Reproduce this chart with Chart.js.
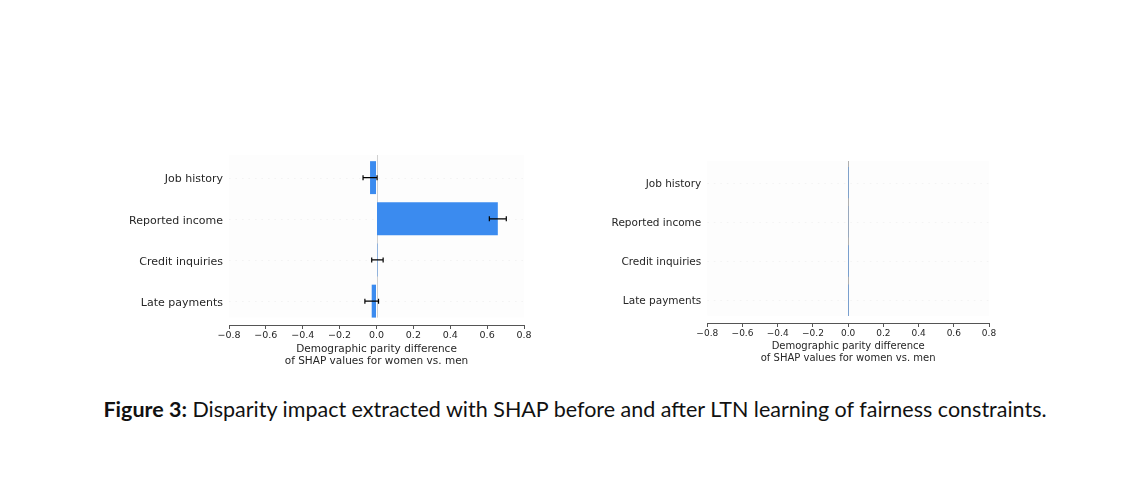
<!DOCTYPE html>
<html>
<head>
<meta charset="utf-8">
<script src="https://cdn.jsdelivr.net/npm/chart.js@4.4.1/dist/chart.umd.min.js"></script>
<style>
  html, body { margin: 0; padding: 0; background: #ffffff; width: 1144px; height: 484px; overflow: hidden; }
  .wrap { position: absolute; }
  #caption { position: absolute; left: 3px; width: 1144px; top: 396px; text-align: center;
    font-family: Lato, "Open Sans", sans-serif; font-size: 21.5px; color: #111; white-space: nowrap; }
  #caption b { font-weight: 700; }
</style>
</head>
<body>
<div class="wrap" style="left:100px;top:140px;width:450px;height:240px;"><canvas id="c1"></canvas></div>
<div class="wrap" style="left:580px;top:140px;width:440px;height:240px;"><canvas id="c2"></canvas></div>
<div id="caption"><b>Figure 3:</b> Disparity impact extracted with SHAP before and after LTN learning of fairness constraints.</div>
<script>
// ---- data ----
const features = ["Late payments", "Credit inquiries", "Reported income", "Job history"]; // bottom to top
const beforeValues = [-0.026, 0.005, 0.658, -0.035];
const beforeErrors = [0.037, 0.031, 0.046, 0.038];
const afterValues  = [0.0002, 0.0002, 0.004, 0.0005];
const afterErrors  = [0.0, 0.0, 0.0, 0.0];
const xTicks = [-0.8, -0.6, -0.4, -0.2, 0.0, 0.2, 0.4, 0.6, 0.8];
const xTitle = ["Demographic parity difference", "of SHAP values for women vs. men"];

const BAR_COLOR = "#3b8bef";
const TEXT = "#262626";

function fmt(v) {
  const s = Math.abs(v).toFixed(1);
  return (v < -1e-9 ? "\u2212" : "") + s;
}

const decorPlugin = {
  id: "decor",
  beforeDatasetsDraw(chart, args, opts) {
    const {ctx, chartArea, scales: {x, y}} = chart;
    ctx.save();
    ctx.fillStyle = "#fdfdfd";
    ctx.fillRect(chartArea.left, chartArea.top, chartArea.right - chartArea.left, y.getPixelForValue(-0.4) - chartArea.top);
    ctx.strokeStyle = "#ececec";
    ctx.lineWidth = 0.6;
    ctx.setLineDash([1.5, 5]);
    features.forEach((f, i) => {
      const py = Math.round(y.getPixelForValue(i)) + 0.5;
      ctx.beginPath(); ctx.moveTo(chartArea.left, py); ctx.lineTo(chartArea.right, py); ctx.stroke();
    });
    ctx.setLineDash([]);
    const px = Math.round(x.getPixelForValue(0)) + 0.5;
    ctx.strokeStyle = opts.zeroColor || "#cccccc";
    ctx.lineWidth = 1;
    ctx.beginPath();
    ctx.moveTo(px, chartArea.top);
    ctx.lineTo(px, y.getPixelForValue(-0.4));
    ctx.stroke();
    ctx.restore();
  },
  afterDatasetsDraw(chart, args, opts) {
    const errs = opts.errors;
    const vals = opts.values;
    if (!errs) return;
    const {ctx, scales: {x, y}} = chart;
    ctx.save();
    ctx.strokeStyle = "#000";
    ctx.lineWidth = 1.2;
    vals.forEach((v, i) => {
      if (!errs[i]) return;
      const py = y.getPixelForValue(i);
      const x1 = x.getPixelForValue(v - errs[i]);
      const x2 = x.getPixelForValue(v + errs[i]);
      ctx.beginPath();
      ctx.moveTo(x1, py); ctx.lineTo(x2, py);
      ctx.moveTo(x1, py - 2.5); ctx.lineTo(x1, py + 2.5);
      ctx.moveTo(x2, py - 2.5); ctx.lineTo(x2, py + 2.5);
      ctx.stroke();
    });
    ctx.restore();
  }
};

function makeChart(id, values, errors, cfg) {
  const data = values.map((v, i) => ({x: v, y: i}));
  return new Chart(document.getElementById(id), {
    type: "bar",
    data: {
      datasets: [{
        data: data,
        backgroundColor: BAR_COLOR,
        borderWidth: 0,
        inflateAmount: cfg.inflate,
        barPercentage: 0.8,
        categoryPercentage: 1.0
      }]
    },
    plugins: [decorPlugin],
    options: {
      indexAxis: "y",
      responsive: true,
      maintainAspectRatio: false,
      animation: false,
      layout: { padding: { top: cfg.padTop, right: cfg.padRight, left: 0, bottom: 0 } },
      plugins: {
        legend: { display: false },
        tooltip: { enabled: false },
        decor: { values: values, errors: errors, zeroColor: cfg.zeroColor }
      },
      scales: {
        x: {
          type: "linear",
          min: -0.8, max: 0.8,
          afterBuildTicks: s => { s.ticks = xTicks.map(v => ({value: v})); },
          afterFit: s => { s.height = cfg.xHeight; },
          border: { display: true, color: "#555555", width: 1 },
          grid: { drawOnChartArea: false, drawTicks: true, tickLength: 4, color: "#555555", tickWidth: 1 },
          ticks: {
            callback: v => fmt(v),
            color: TEXT, padding: 1, maxRotation: 0, autoSkip: false,
            font: { family: "'DejaVu Sans'", size: cfg.tickSize }
          },
          title: {
            display: true, text: xTitle, color: TEXT,
            font: { family: "'DejaVu Sans'", size: cfg.titleSize, lineHeight: cfg.titleLH },
            padding: { top: 0, bottom: cfg.titlePad }
          }
        },
        y: {
          type: "linear",
          offset: false,
          min: -0.58, max: 3.55,
          afterBuildTicks: s => { s.ticks = features.map((f, i) => ({value: i})); },
          afterFit: s => { s.width = cfg.yWidth; },
          border: { display: false },
          grid: { display: false, drawTicks: false, offset: false, tickLength: 0 },
          ticks: {
            callback: v => features[v],
            color: TEXT, padding: 6, autoSkip: false, labelOffset: cfg.labelOffset,
            font: { family: "'DejaVu Sans'", size: cfg.labelSize }
          }
        }
      }
    }
  });
}

makeChart("c1", beforeValues, beforeErrors, {
  padTop: 15, padRight: 26, xHeight: 55, yWidth: 129, labelOffset: 2, inflate: "auto",
  tickSize: 9.5, titleSize: 10.5, titleLH: "12px", titlePad: 13, labelSize: 11, zeroColor: "#d0d0d0"
});
makeChart("c2", afterValues, afterErrors, {
  padTop: 21, padRight: 31, xHeight: 57, yWidth: 127.3, labelOffset: 1.5, inflate: 0,
  tickSize: 9, titleSize: 10, titleLH: "12px", titlePad: 16, labelSize: 10.5, zeroColor: "#b0b0b0"
});
</script>
</body>
</html>
